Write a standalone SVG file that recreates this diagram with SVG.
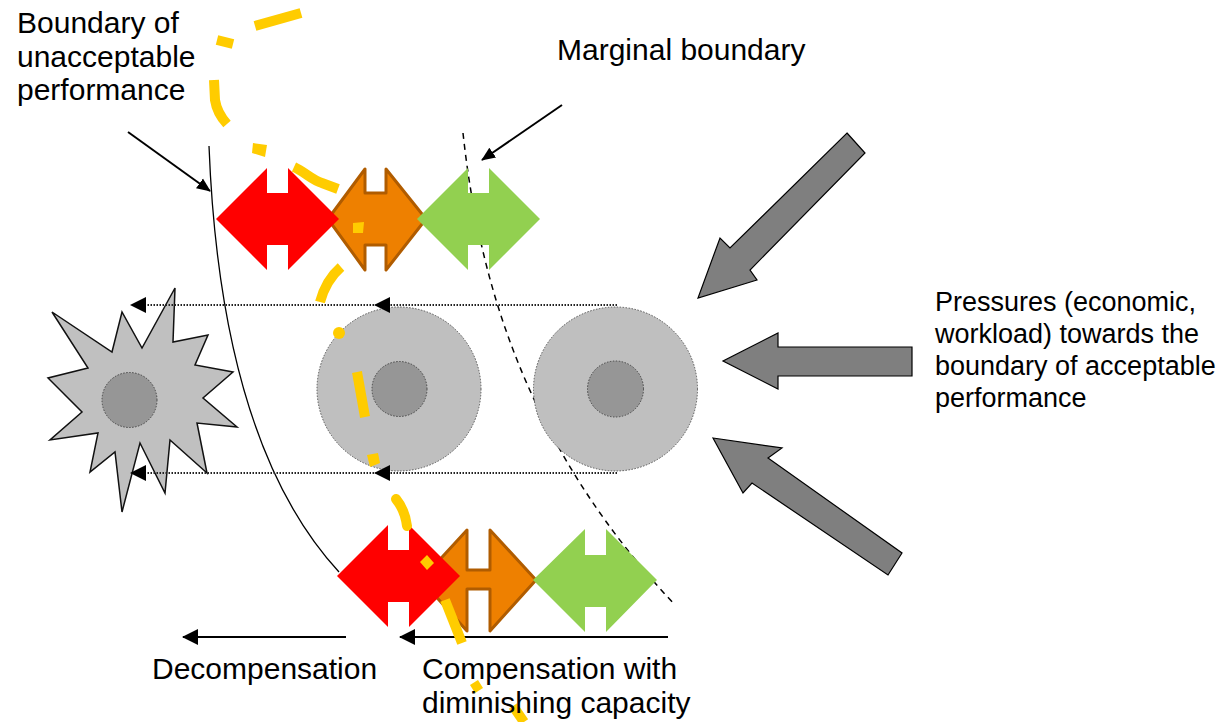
<svg xmlns="http://www.w3.org/2000/svg" width="1222" height="722" viewBox="0 0 1222 722">
<defs>
<marker id="ah" markerWidth="16" markerHeight="16" viewBox="0 0 16 16" refX="15" refY="8" orient="auto" markerUnits="userSpaceOnUse">
<path d="M0,0 L16,8 L0,16 Z" fill="#000"/>
</marker>
<marker id="ahs" markerWidth="14" markerHeight="14" viewBox="0 0 14 14" refX="13" refY="7" orient="auto" markerUnits="userSpaceOnUse">
<path d="M0,1 L14,7 L0,13 Z" fill="#000"/>
</marker>
</defs>
<style>
text{font-family:"Liberation Sans",Arial,sans-serif;fill:#000}
.lbl{font-size:30px}
.lbl2{font-size:27px}
.red{fill:#ff0000}
.org{fill:#ee8000;stroke:#b05c00;stroke-width:3;stroke-linejoin:round}
.grn{fill:#92d050}
.gray{fill:#7f7f7f;stroke:#000;stroke-width:1.2;stroke-linejoin:miter}
.outer{fill:#bfbfbf;stroke:#555;stroke-width:1;stroke-dasharray:1.5 1.5}
.inner{fill:#969696;stroke:#444;stroke-width:1;stroke-dasharray:1.5 1.5}
.dot{fill:none;stroke:#222;stroke-width:2;stroke-dasharray:1.5 1.5}
.yl{fill:none;stroke:#ffcc00;stroke-width:10}
.yf{fill:#ffcc00}
</style>
<rect width="1222" height="722" fill="#fff"/>

<g id="boundary-lines">
<path d="M209,146 C215,300 245,470 339,572" fill="none" stroke="#000" stroke-width="1.3"/>
<path d="M463,133 C480,290 530,450 675,605" fill="none" stroke="#000" stroke-width="1.5" stroke-dasharray="6 5"/>
</g>

<g id="star">
<polygon points="175,288 173,342 208,335 195,365 233,372 203,398 237,427 197,423 207,473 170,440 165,493 140,443 122,512 115,452 90,472 98,433 50,440 82,412 48,378 88,368 52,312 112,352 122,312 142,348" fill="#c0c0c0" stroke="#111" stroke-width="1.5" stroke-linejoin="miter"/>
<circle cx="129.5" cy="400" r="27.5" class="inner"/>
</g>

<g id="circle-middle">
<circle cx="399" cy="389" r="82" class="outer"/>
<circle cx="399.5" cy="389" r="27.5" class="inner"/>
</g>
<g id="circle-right">
<circle cx="615.5" cy="389" r="82" class="outer"/>
<circle cx="615.5" cy="389" r="28" class="inner"/>
</g>

<g id="connectors">
<path d="M617,305 L375,305 L131,305" class="dot" marker-mid="url(#ah)" marker-end="url(#ah)"/>
<path d="M617,473 L375,473 L131,473" class="dot" marker-mid="url(#ah)" marker-end="url(#ah)"/>
<path d="M346,637 L183,637" stroke="#000" stroke-width="2" fill="none" marker-end="url(#ah)"/>
<path d="M668,637 L400,637" stroke="#000" stroke-width="2" fill="none" marker-end="url(#ah)"/>
<path d="M128,132 L210,191" stroke="#000" stroke-width="2" fill="none" marker-end="url(#ahs)"/>
<path d="M562,105 L482,160" stroke="#000" stroke-width="2" fill="none" marker-end="url(#ahs)"/>
</g>

<g id="top-orange"><polygon class="org" points="328,219 365,169 365,193 386,193 386,169 426,219 386,270 386,245 365,245 365,270"/></g>
<g id="top-red"><polygon class="red" points="216,219 267,168 267,193 288,193 288,168 339,219 288,270 288,245 267,245 267,270"/></g>
<g id="top-green"><polygon class="grn" points="417,219 468,168 468,193 489,193 489,168 540,219 489,270 489,245 468,245 468,270"/></g>

<g id="bottom-orange"><polygon class="org" points="421,580 467,530 467,570 490,570 490,530 536,580 490,631 490,589 467,589 467,631"/></g>
<g id="bottom-red"><polygon class="red" points="337,576 388,525 388,550 409,550 409,525 460,576 409,627 409,602 388,602 388,627"/></g>
<g id="bottom-green"><polygon class="grn" points="533,580 585,529 585,555 606,555 606,529 657,580 606,632 606,607 585,607 585,632"/></g>

<g id="pressure-arrows">
<polygon class="gray" points="847,133 865,153 750,270 757,280 698,298 720,238 730,248"/>
<polygon class="gray" points="912,347 912,376 778,376 778,389 723,361 778,333 778,347"/>
<polygon class="gray" points="713,438 782,448 768,458 902,553 888,575 752,483 743,493"/>
</g>

<g id="yellow-path">
<path class="yl" d="M255,26 L301,13"/>
<path class="yl" stroke-width="8" d="M217,40 L233,44"/>
<path class="yl" d="M214,80 L215,100 Q217,113 227,124"/>
<polygon class="yf" points="253,143 267,145 265,157 252,153"/>
<path class="yl" d="M294,167 C305,172 312,180 322,183 L338,189"/>
<polygon class="yf" points="353,223 364,222 363,233 353,233"/>
<path class="yl" d="M341,267 Q326,280 320,302"/>
<circle class="yf" cx="339" cy="333" r="6"/>
<path class="yl" stroke-width="11" d="M357,372 L365,417"/>
<polygon class="yf" points="367,455 378,453 380,463 370,467"/>
<path class="yl" stroke-linecap="round" d="M396,499 Q405,510 407,526"/>
<polygon class="yf" points="420,562 427,555 434,563 427,570"/>
<path class="yl" stroke-width="11" d="M445,600 L462,643"/>
<polygon class="yf" points="470,685 478,680 483,688 475,693"/>
<path class="yl" stroke-width="11" d="M513,706 L524,722"/>
</g>

<g id="labels">
<text class="lbl" x="17" y="33">Boundary of</text>
<text class="lbl" x="17" y="67">unacceptable</text>
<text class="lbl" x="17" y="100">performance</text>
<text class="lbl" x="557" y="60">Marginal boundary</text>
<text class="lbl2" x="935" y="311">Pressures (economic,</text>
<text class="lbl2" x="935" y="343">workload) towards the</text>
<text class="lbl2" x="935" y="375">boundary of acceptable</text>
<text class="lbl2" x="935" y="407">performance</text>
<text class="lbl" x="152" y="679">Decompensation</text>
<text class="lbl" x="422" y="679">Compensation with</text>
<text class="lbl" x="422" y="713">diminishing capacity</text>
</g>
</svg>
